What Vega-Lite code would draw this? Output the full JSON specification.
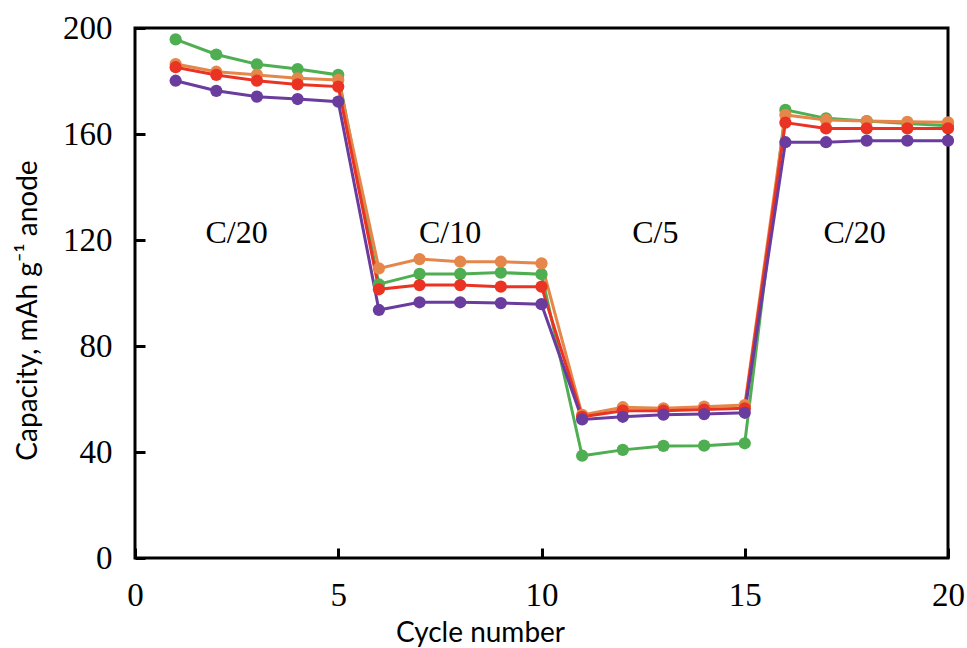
{
  "$schema": "https://vega.github.io/schema/vega-lite/v6.json",
  "autosize": "none",
  "width": 813,
  "height": 530,
  "padding": {"left": 135, "top": 28, "right": 19, "bottom": 90},
  "background": "white",
  "config": {
    "view": {"stroke": "black", "strokeWidth": 3},
    "axis": {
      "domain": false,
      "grid": false,
      "zindex": 1,
      "labelFlush": false,
      "tickColor": "black",
      "tickWidth": 3,
      "tickSize": -10,
      "labelFont": "Liberation Serif",
      "labelFontSize": 33,
      "labelColor": "black",
      "titleFont": "Lato",
      "titleFontSize": 28,
      "titleFontWeight": "normal",
      "titleColor": "black"
    }
  },
  "datasets": {
    "series": [
      {"cycle": 1, "capacity": 195.7, "cell": "A"},
      {"cycle": 2, "capacity": 190.0, "cell": "A"},
      {"cycle": 3, "capacity": 186.3, "cell": "A"},
      {"cycle": 4, "capacity": 184.5, "cell": "A"},
      {"cycle": 5, "capacity": 182.3, "cell": "A"},
      {"cycle": 6, "capacity": 103.3, "cell": "A"},
      {"cycle": 7, "capacity": 107.2, "cell": "A"},
      {"cycle": 8, "capacity": 107.2, "cell": "A"},
      {"cycle": 9, "capacity": 107.7, "cell": "A"},
      {"cycle": 10, "capacity": 107.1, "cell": "A"},
      {"cycle": 11, "capacity": 38.6, "cell": "A"},
      {"cycle": 12, "capacity": 40.8, "cell": "A"},
      {"cycle": 13, "capacity": 42.3, "cell": "A"},
      {"cycle": 14, "capacity": 42.4, "cell": "A"},
      {"cycle": 15, "capacity": 43.3, "cell": "A"},
      {"cycle": 16, "capacity": 169.1, "cell": "A"},
      {"cycle": 17, "capacity": 165.9, "cell": "A"},
      {"cycle": 18, "capacity": 164.9, "cell": "A"},
      {"cycle": 19, "capacity": 164.0, "cell": "A"},
      {"cycle": 20, "capacity": 163.1, "cell": "A"},
      {"cycle": 1, "capacity": 186.4, "cell": "B"},
      {"cycle": 2, "capacity": 183.5, "cell": "B"},
      {"cycle": 3, "capacity": 182.3, "cell": "B"},
      {"cycle": 4, "capacity": 181.0, "cell": "B"},
      {"cycle": 5, "capacity": 180.4, "cell": "B"},
      {"cycle": 6, "capacity": 109.3, "cell": "B"},
      {"cycle": 7, "capacity": 112.8, "cell": "B"},
      {"cycle": 8, "capacity": 111.8, "cell": "B"},
      {"cycle": 9, "capacity": 111.8, "cell": "B"},
      {"cycle": 10, "capacity": 111.2, "cell": "B"},
      {"cycle": 11, "capacity": 54.0, "cell": "B"},
      {"cycle": 12, "capacity": 56.9, "cell": "B"},
      {"cycle": 13, "capacity": 56.5, "cell": "B"},
      {"cycle": 14, "capacity": 57.1, "cell": "B"},
      {"cycle": 15, "capacity": 57.7, "cell": "B"},
      {"cycle": 16, "capacity": 167.2, "cell": "B"},
      {"cycle": 17, "capacity": 165.3, "cell": "B"},
      {"cycle": 18, "capacity": 164.9, "cell": "B"},
      {"cycle": 19, "capacity": 164.6, "cell": "B"},
      {"cycle": 20, "capacity": 164.4, "cell": "B"},
      {"cycle": 1, "capacity": 185.2, "cell": "C"},
      {"cycle": 2, "capacity": 182.3, "cell": "C"},
      {"cycle": 3, "capacity": 180.1, "cell": "C"},
      {"cycle": 4, "capacity": 178.7, "cell": "C"},
      {"cycle": 5, "capacity": 177.9, "cell": "C"},
      {"cycle": 6, "capacity": 101.4, "cell": "C"},
      {"cycle": 7, "capacity": 103.0, "cell": "C"},
      {"cycle": 8, "capacity": 103.0, "cell": "C"},
      {"cycle": 9, "capacity": 102.4, "cell": "C"},
      {"cycle": 10, "capacity": 102.4, "cell": "C"},
      {"cycle": 11, "capacity": 53.3, "cell": "C"},
      {"cycle": 12, "capacity": 55.6, "cell": "C"},
      {"cycle": 13, "capacity": 55.6, "cell": "C"},
      {"cycle": 14, "capacity": 56.0, "cell": "C"},
      {"cycle": 15, "capacity": 56.5, "cell": "C"},
      {"cycle": 16, "capacity": 164.3, "cell": "C"},
      {"cycle": 17, "capacity": 162.1, "cell": "C"},
      {"cycle": 18, "capacity": 162.1, "cell": "C"},
      {"cycle": 19, "capacity": 162.1, "cell": "C"},
      {"cycle": 20, "capacity": 162.1, "cell": "C"},
      {"cycle": 1, "capacity": 180.1, "cell": "D"},
      {"cycle": 2, "capacity": 176.3, "cell": "D"},
      {"cycle": 3, "capacity": 174.1, "cell": "D"},
      {"cycle": 4, "capacity": 173.2, "cell": "D"},
      {"cycle": 5, "capacity": 172.2, "cell": "D"},
      {"cycle": 6, "capacity": 93.6, "cell": "D"},
      {"cycle": 7, "capacity": 96.5, "cell": "D"},
      {"cycle": 8, "capacity": 96.5, "cell": "D"},
      {"cycle": 9, "capacity": 96.2, "cell": "D"},
      {"cycle": 10, "capacity": 95.8, "cell": "D"},
      {"cycle": 11, "capacity": 52.3, "cell": "D"},
      {"cycle": 12, "capacity": 53.3, "cell": "D"},
      {"cycle": 13, "capacity": 54.1, "cell": "D"},
      {"cycle": 14, "capacity": 54.3, "cell": "D"},
      {"cycle": 15, "capacity": 54.8, "cell": "D"},
      {"cycle": 16, "capacity": 156.9, "cell": "D"},
      {"cycle": 17, "capacity": 156.9, "cell": "D"},
      {"cycle": 18, "capacity": 157.5, "cell": "D"},
      {"cycle": 19, "capacity": 157.5, "cell": "D"},
      {"cycle": 20, "capacity": 157.5, "cell": "D"}
    ],
    "labels": [
      {"cycle": 2.5, "capacity": 122.5, "label": "C/20"},
      {"cycle": 7.75, "capacity": 122.5, "label": "C/10"},
      {"cycle": 12.8, "capacity": 122.5, "label": "C/5"},
      {"cycle": 17.7, "capacity": 122.5, "label": "C/20"}
    ]
  },
  "layer": [
    {
      "data": {"name": "series"},
      "mark": {"type": "line", "strokeWidth": 3, "point": {"filled": true, "size": 150, "opacity": 1}},
      "encoding": {
        "x": {
          "field": "cycle", "type": "quantitative",
          "scale": {"domain": [0, 20], "nice": false},
          "axis": {"values": [0, 5, 10, 15, 20], "title": "Cycle number", "labelPadding": 31, "titleX": 345, "titleY": 89, "titleBaseline": "bottom", "titleAnchor": null, "titleAlign": "center"}
        },
        "y": {
          "field": "capacity", "type": "quantitative",
          "scale": {"domain": [0, 200], "nice": false},
          "axis": {"values": [0, 40, 80, 120, 160, 200], "title": "Capacity, mAh g⁻¹ anode", "labelPadding": 33, "titleX": -107, "titleY": 282, "titleAngle": -90, "titleAlign": "center", "titleBaseline": "middle"}
        },
        "color": {
          "field": "cell", "type": "nominal",
          "scale": {"domain": ["A", "B", "C", "D"], "range": ["#4FAE52", "#E5874A", "#EB3323", "#6A3C9E"]},
          "legend": null
        },
        "order": {"field": "cycle", "type": "quantitative"}
      }
    },
    {
      "data": {"name": "labels"},
      "mark": {"type": "text", "font": "Liberation Serif", "fontSize": 32, "color": "black", "align": "center", "baseline": "middle"},
      "encoding": {
        "x": {"field": "cycle", "type": "quantitative"},
        "y": {"field": "capacity", "type": "quantitative"},
        "text": {"field": "label"}
      }
    }
  ]
}
